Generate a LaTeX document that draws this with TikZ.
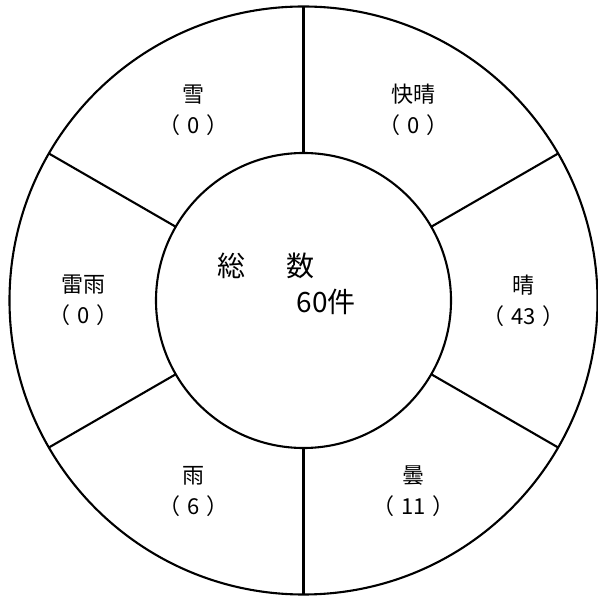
\documentclass[tikz,border=0pt]{standalone}
\usepackage{fontspec}
\setmainfont{Noto Sans CJK JP}
\usepackage{tikz}
\usetikzlibrary{positioning}
\newcommand{\kakko}[1]{（\hspace{.3em}#1\hspace{.3em}）}
\tikzset{
  ring/.style={draw,circle,line width=2.1pt,outer sep=0pt,inner sep=0pt},
  divider/.style={line width=2.1pt},
  wlabel/.style={align=center,font=\fontsize{22}{31}\selectfont},
  total/.style={font=\fontsize{28}{34}\selectfont,inner sep=0pt}
}
\begin{document}
\begin{tikzpicture}[x=1pt,y=1pt]
        \useasboundingbox (-303.5,-300.5) rectangle (293.5,300.5);
        \node[ring,minimum size=588pt] (outer) at (0,0) {};
        \node[ring,minimum size=295pt] (inner) at (0,0) {};
        \foreach \a in {90,30,-30,-90,-150,150}
          \draw[divider] (inner.\a) -- (outer.\a);
        \node[wlabel] (kaisei) at (60:220) {快晴\\\kakko{0}};
        \node[wlabel] (hare) at (0:220) {晴\\\kakko{43}};
        \node[wlabel] (kumori) at (-60:220) {曇\\\kakko{11}};
        \node[wlabel] (ame) at (-120:220) {雨\\\kakko{6}};
        \node[wlabel] (raiu) at (180:220) {雷雨\\\kakko{0}};
        \node[wlabel] (yuki) at (120:220) {雪\\\kakko{0}};
        \node[total] (soukei) at (-37.5,34.5) {総\hspace{1.45em}数};
        \node[total] (kensu) at (22.5,-1.5) {60件};
      \end{tikzpicture}
\end{document}
